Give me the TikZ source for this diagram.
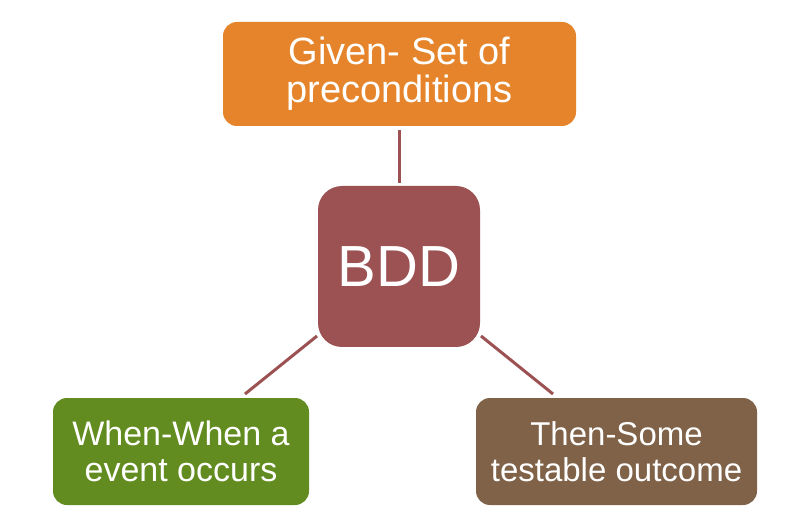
\documentclass[tikz,border=0pt]{standalone}
\usepackage{fontspec}
\setmainfont{Liberation Sans}
\definecolor{cgiven}{HTML}{E5842A}
\definecolor{cbdd}{HTML}{9C5152}
\definecolor{cwhen}{HTML}{628C1F}
\definecolor{cthen}{HTML}{806248}
\tikzset{
  box/.style={rounded corners=14pt, text=white, align=center, inner sep=0pt,
              font=\fontsize{38}{38}\selectfont},
  link/.style={draw=cbdd, line width=3pt}
}
\begin{document}
\begin{tikzpicture}[x=1pt,y=-1pt]
\useasboundingbox[fill=white] (0,0) rectangle (800,518);
\node[box, fill=cgiven, minimum width=353pt, minimum height=104pt] (given) at (399.5,74) {Given- Set of\\preconditions};
\node[box, fill=cbdd, rounded corners=24pt, minimum width=162pt, minimum height=161pt, font=\fontsize{58}{60}\selectfont] (bdd) at (399,266.5) {BDD};
\node[box, fill=cwhen, minimum width=256pt, minimum height=107pt, font=\fontsize{34}{36}\selectfont] (when) at (181,451.5) {When-When a\\event occurs};
\node[box, fill=cthen, minimum width=281pt, minimum height=107pt, font=\fontsize{33}{36}\selectfont] (then) at (616.5,451.5) {Then-Some\\testable outcome};
\coordinate (gtop) at (399,130);
\coordinate (gbot) at (399,183);
\coordinate (lA) at (317,336);
\coordinate (lB) at (245,394);
\coordinate (rA) at (481,336);
\coordinate (rB) at (553,394);
\draw[link] (gtop) -- (gbot);
\draw[link] (lA) -- (lB);
\draw[link] (rA) -- (rB);
\end{tikzpicture}
\end{document}
